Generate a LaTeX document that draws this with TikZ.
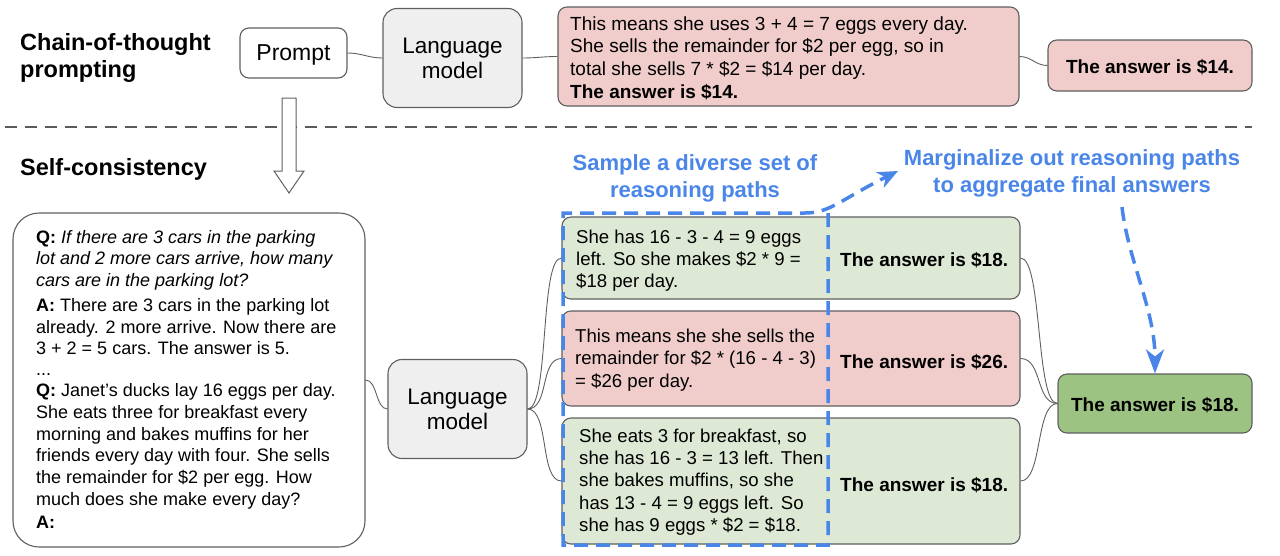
\documentclass[tikz,border=0pt]{standalone}
\usepackage{fontspec}
\setmainfont{Liberation Sans}
\usetikzlibrary{arrows.meta}
\definecolor{pinkf}{HTML}{F0CDCB}
\definecolor{greenf}{HTML}{DDE9D5}
\definecolor{greend}{HTML}{9DC383}
\definecolor{lmgray}{HTML}{EFEFEF}
\definecolor{bordc}{HTML}{5F5F5F}
\definecolor{sepc}{HTML}{5A5A5A}
\definecolor{gblue}{HTML}{4A86E8}
\begin{document}
\begin{tikzpicture}[x=1pt,y=-1pt,
  box/.style={draw=bordc, line width=1.1pt, rounded corners=9pt, inner sep=0pt},
  lmbox/.style={box, fill=lmgray, rounded corners=14pt, minimum width=139pt, minimum height=99pt, align=center, font=\fontsize{22.5}{25}\selectfont},
  titletext/.style={anchor=west, align=left, inner sep=0pt, font=\bfseries\fontsize{23.5}{27}\selectfont},
  reason/.style={anchor=west, align=left, inner sep=0pt, font=\fontsize{18.6}{22.3}\selectfont},
  ans/.style={anchor=west, inner sep=0pt, font=\bfseries\fontsize{19}{22}\selectfont},
  bluelab/.style={align=center, inner sep=0pt, text=gblue, font=\bfseries\fontsize{22}{27}\selectfont},
  conn/.style={draw=bordc, line width=0.9pt},
  bluedash/.style={draw=gblue, line width=3.5pt, dash pattern=on 14pt off 8pt},
]
\useasboundingbox (0,0) rectangle (1280,555);

% ---------- top row ----------
\node[titletext] (cot) at (20,58) {Chain-of-thought\\prompting};
\node[box, fill=white, minimum width=107pt, minimum height=50pt] (prompt) at (293.5,53) {};
\node[inner sep=0pt, font=\fontsize{23}{26}\selectfont] (ptext) at (293.5,55) {Prompt};
\node[lmbox] (lm1) at (452.5,58) {Language\\model};
\node[box, fill=pinkf, minimum width=461pt, minimum height=99pt] (cotbox) at (788.5,56.5) {};
\node[reason, font=\fontsize{19}{22.7}\selectfont] (cottext) at (570,58) {This means she uses 3 + 4 = 7 eggs every day.\\She sells the remainder for \$2 per egg, so in\\total she sells 7 * \$2 = \$14 per day.\\\textbf{The answer is \$14.}};
\node[box, fill=pinkf, minimum width=204pt, minimum height=51pt] (cotans) at (1150,65.5) {};
\node[ans, anchor=center] (cotanstext) at (1150,67) {The answer is \$14.};

\draw[conn] (prompt.east) .. controls +(14,0) and +(-14,0) .. (lm1.west);
\draw[conn] (lm1.east) .. controls +(14,0) and +(-14,0) .. (cotbox.west);
\draw[conn] (cotbox.east) .. controls +(12,0) and +(-12,0) .. (cotans.west);

% ---------- separator ----------
\coordinate (sepL) at (5,127);
\coordinate (sepR) at (1252,127);
\draw[draw=sepc, line width=2.6pt, dash pattern=on 12pt off 8pt] (sepL) -- (sepR);

% hollow arrow
\draw[draw=bordc, fill=white, line width=1pt, line join=miter]
  (282,98) -- (296,98) -- (296,171) -- (304,171) -- (289,193) -- (274,171) -- (282,171) -- cycle;

\node[titletext] (sc) at (20,169) {Self-consistency};

% ---------- bottom ----------
\node[box, fill=white, rounded corners=26pt, minimum width=352pt, minimum height=334pt] (q) at (189,380) {};
\node[anchor=north west, align=left, inner sep=0pt, font=\fontsize{18}{21.7}\selectfont] (qt) at (36,230) {%
\textbf{Q:} \textit{If there are 3 cars in the parking}\\
\textit{lot and 2 more cars arrive, how many}\\
\textit{cars are in the parking lot?}\\[3pt]
\textbf{A:} There are 3 cars in the parking lot\\
already. 2 more arrive. Now there are\\
3 + 2 = 5 cars. The answer is 5.\\[-0.5pt]
...\\[-1pt]
\textbf{Q:} Janet’s ducks lay 16 eggs per day.\\
She eats three for breakfast every\\
morning and bakes muffins for her\\
friends every day with four. She sells\\
the remainder for \$2 per egg. How\\
much does she make every day?\\[2pt]
\textbf{A:}};

\node[lmbox] (lm2) at (457.5,409) {Language\\model};

\node[box, fill=greenf, minimum width=458pt, minimum height=82pt] (b1) at (791,258) {};
\node[box, fill=pinkf, minimum width=458pt, minimum height=95pt] (b2) at (791,358.5) {};
\node[box, fill=greenf, minimum width=458pt, minimum height=126pt] (b3) at (791,481) {};

\node[reason] (t1) at (576,260.5) {She has 16 - 3 - 4 = 9 eggs\\left. So she makes \$2 * 9 =\\\$18 per day.};
\node[reason] (t2) at (575,360) {This means she she sells the\\remainder for \$2 * (16 - 4 - 3)\\= \$26 per day.};
\node[reason] (t3) at (579,482) {She eats 3 for breakfast, so\\she has 16 - 3 = 13 left. Then\\she bakes muffins, so she\\has 13 - 4 = 9 eggs left. So\\she has 9 eggs * \$2 = \$18.};

\node[ans] (a1) at (840,260) {The answer is \$18.};
\node[ans] (a2) at (840,362) {The answer is \$26.};
\node[ans] (a3) at (840,485) {The answer is \$18.};

\node[box, fill=greend, minimum width=194pt, minimum height=59pt] (final) at (1155,403.5) {};
\node[ans, anchor=center] (finaltext) at (1155,405) {The answer is \$18.};

\draw[conn] (q.east |- 0,380) .. controls +(12,0) and +(-12,0) .. (lm2.west);
\draw[conn] (lm2.east) .. controls +(22,0) and +(-22,0) .. (b1.west);
\draw[conn] (lm2.east) .. controls +(22,0) and +(-22,0) .. (b2.west);
\draw[conn] (lm2.east) .. controls +(22,0) and +(-22,0) .. (b3.west);
\draw[conn] (b1.east) .. controls +(22,0) and +(-22,0) .. (final.west);
\draw[conn] (b2.east) .. controls +(22,0) and +(-22,0) .. (final.west);
\draw[conn] (b3.east) .. controls +(22,0) and +(-22,0) .. (final.west);

% blue labels
\node[bluelab] (sample) at (695,178) {Sample a diverse set of\\reasoning paths};
\node[bluelab] (marg) at (1072,173) {Marginalize out reasoning paths\\to aggregate final answers};

% blue dashed selection and arrows
\coordinate (rTL) at (563,213);
\coordinate (rBL) at (563,545);
\coordinate (rBR) at (828,545);
\coordinate (rTR) at (828,213);
\coordinate (tipA) at (898,171);
\coordinate (vs) at (1122,207);
\draw[bluedash, -{Stealth[length=20pt,width=17pt,inset=6pt]}]
  (rTR) -- (rBR) -- (rBL) -- (rTL) -- (805,213) .. controls (830,213) and (840,200) .. (tipA);
\draw[bluedash, -{Stealth[length=24pt,width=18pt,inset=7pt]}]
  (vs) .. controls (1128,260) and (1155,310) .. (final.north);
\end{tikzpicture}
\end{document}
